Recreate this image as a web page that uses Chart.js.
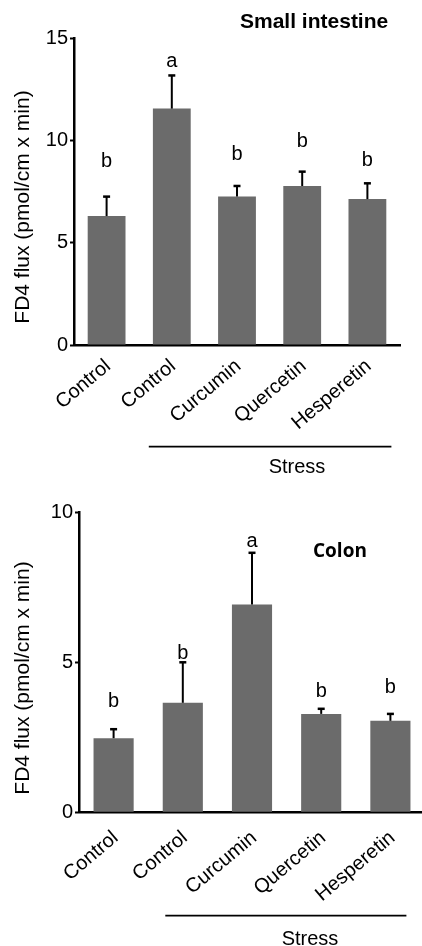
<!DOCTYPE html>
<html>
<head>
<meta charset="utf-8">
<script src="https://cdn.jsdelivr.net/npm/chart.js@4.4.0/dist/chart.umd.min.js"></script>
<style>
  html, body { margin: 0; padding: 0; background: #fff; overflow: hidden; }
  #wrapSmall { position: absolute; left: 0; top: 0; width: 422px; height: 480px; }
  #wrapColon { position: absolute; left: 0; top: 480px; width: 422px; height: 466px; overflow: hidden; }
</style>
</head>
<body>
<div id="wrapSmall"><canvas id="smallChart" width="422" height="480"></canvas></div>
<div id="wrapColon"><canvas id="colonChart" width="426" height="466"></canvas></div>
<script>
// groups on the x axis (the last four are under "Stress")
const groups = ["Control", "Control", "Curcumin", "Quercetin", "Hesperetin"];

// small intestine
const smallMeans = [6.3, 11.55, 7.25, 7.77, 7.13];
const smallErr = [0.95, 1.62, 0.52, 0.7, 0.77];
const smallLetters = ["b", "a", "b", "b", "b"];
const smallLetterAt = [8.7, 13.58, 9.04, 9.67, 8.74];
const smallTicks = [0, 5, 10, 15];

// colon
const colonMeans = [2.47, 3.65, 6.93, 3.28, 3.05];
const colonErr = [0.3, 1.35, 1.72, 0.17, 0.23];
const colonLetters = ["b", "b", "a", "b", "b"];
const colonLetterAt = [3.5, 5.1, 8.85, 3.85, 3.97];
const colonTicks = [0, 5, 10];

const FONT = "'Liberation Sans', Arial, sans-serif";
const BAR_GREY = "#6b6b6b";

function annotations(cfg) {
  return {
    id: "annotations",
    afterDraw(chart) {
      const { ctx, chartArea } = chart;
      const x = chart.scales.x;
      const y = chart.scales.y;
      ctx.save();
      ctx.fillStyle = "#000";
      ctx.strokeStyle = "#000";

      // upper error bars
      cfg.means.forEach((m, i) => {
        const px = x.getPixelForValue(i);
        const y0 = y.getPixelForValue(m);
        const y1 = y.getPixelForValue(m + cfg.errs[i]);
        ctx.lineWidth = 2;
        ctx.beginPath(); ctx.moveTo(px, y0); ctx.lineTo(px, y1); ctx.stroke();
        ctx.lineWidth = 2.5;
        ctx.beginPath(); ctx.moveTo(px - 3.5, y1); ctx.lineTo(px + 3.5, y1); ctx.stroke();
      });

      // significance letters
      ctx.font = "20px " + FONT;
      ctx.textAlign = "center";
      ctx.textBaseline = "alphabetic";
      cfg.letters.forEach((l, i) => {
        ctx.fillText(l, x.getPixelForValue(i), y.getPixelForValue(cfg.letterAt[i]));
      });

      // rotated group labels
      ctx.font = "20px " + FONT;
      ctx.textAlign = "right";
      ctx.textBaseline = "top";
      groups.forEach((g, i) => {
        ctx.save();
        ctx.translate(x.getPixelForValue(i) + cfg.labelDx, chartArea.bottom + cfg.labelDy);
        ctx.rotate(-40 * Math.PI / 180);
        ctx.fillText(g, 0, 0);
        ctx.restore();
      });

      // y axis title
      ctx.save();
      ctx.translate(23, cfg.yTitleY);
      ctx.rotate(-Math.PI / 2);
      ctx.font = "21px " + FONT;
      ctx.textAlign = "center";
      ctx.textBaseline = "middle";
      ctx.fillText("FD4 flux (pmol/cm x min)", 0, 0);
      ctx.restore();

      // panel title
      ctx.font = cfg.titleFont;
      ctx.textAlign = "left";
      ctx.textBaseline = "alphabetic";
      ctx.fillText(cfg.title, cfg.titleX, cfg.titleY);

      // stress bracket
      ctx.lineWidth = 1.7;
      ctx.beginPath();
      ctx.moveTo(x.getPixelForValue(1) - cfg.stressPadL, cfg.stressY);
      ctx.lineTo(x.getPixelForValue(4) + cfg.stressPadR, cfg.stressY);
      ctx.stroke();
      ctx.font = "20px " + FONT;
      ctx.textAlign = "center";
      ctx.fillText("Stress", cfg.stressTextX, cfg.stressTextY);
      ctx.restore();
    }
  };
}

function makeChart(id, cfg) {
  return new Chart(document.getElementById(id), {
    type: "bar",
    data: {
      labels: groups,
      datasets: [{
        data: cfg.means,
        backgroundColor: BAR_GREY,
        barPercentage: 0.58,
        categoryPercentage: 1
      }]
    },
    options: {
      responsive: false,
      animation: false,
      layout: { padding: { top: cfg.padTop, right: cfg.padRight, left: 0, bottom: 0 } },
      plugins: { legend: { display: false }, tooltip: { enabled: false } },
      scales: {
        x: {
          z: 1,
          grid: { drawOnChartArea: false, drawTicks: false },
          border: { color: "#000", width: 2.5 },
          ticks: { display: false },
          afterFit: (s) => { s.height = cfg.xHeight; }
        },
        y: {
          min: 0,
          max: cfg.ticks[cfg.ticks.length - 1],
          afterBuildTicks: (s) => { s.ticks = cfg.ticks.map((v) => ({ value: v })); },
          grid: { drawOnChartArea: false, drawTicks: true, tickLength: 4, tickColor: "#000", tickWidth: 2 },
          border: { color: "#000", width: 2.5 },
          ticks: { color: "#000", padding: 2, font: { family: FONT, size: 20 } },
          afterFit: (s) => { s.width = cfg.yWidth; }
        }
      }
    },
    plugins: [annotations(cfg)]
  });
}

makeChart("smallChart", {
  means: smallMeans, errs: smallErr, letters: smallLetters, letterAt: smallLetterAt, ticks: smallTicks,
  padTop: 38, padRight: 22, yWidth: 74, xHeight: 135,
  labelDx: -5, labelDy: 11, yTitleY: 207,
  title: "Small intestine", titleFont: "bold 21px " + FONT, titleX: 240, titleY: 28,
  stressPadL: 23, stressPadR: 24, stressY: 446.7, stressTextX: 297, stressTextY: 473
});

makeChart("colonChart", {
  means: colonMeans, errs: colonErr, letters: colonLetters, letterAt: colonLetterAt, ticks: colonTicks,
  padTop: 32.3, padRight: 1, yWidth: 79, xHeight: 133.7,
  labelDx: -4.3, labelDy: 15.3, yTitleY: 198,
  title: "Colon", titleFont: "bold 19px 'Open Sans', sans-serif", titleX: 313, titleY: 77,
  stressPadL: 17.5, stressPadR: 16, stressY: 435.7, stressTextX: 310, stressTextY: 465
});
</script>
</body>
</html>
